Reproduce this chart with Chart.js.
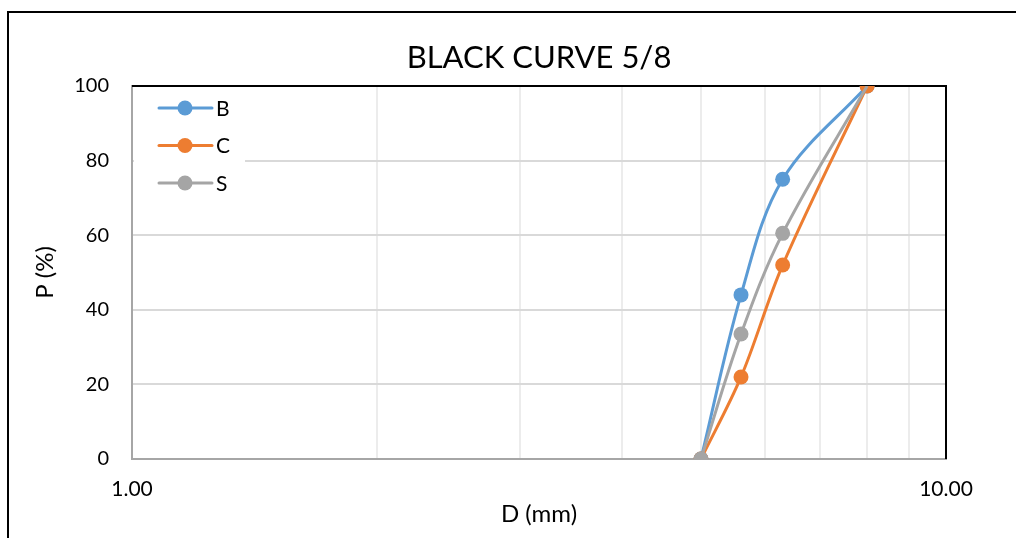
<!DOCTYPE html>
<html>
<head>
<meta charset="utf-8">
<script src="https://cdn.jsdelivr.net/npm/chart.js@4.4.1/dist/chart.umd.min.js"></script>
<style>
  html, body { margin: 0; padding: 0; background: #fff; }
  #wrap { width: 1016px; height: 538px; position: relative; }
</style>
</head>
<body>
<div id="wrap"><canvas id="curveChart" width="1016" height="538"></canvas></div>
<script>
  // sieve sizes (mm) and passing percentages
  var sizes = [5, 5.6, 6.3, 8];
  var passB = [0, 44, 75, 100];
  var passC = [0, 22, 52, 100];
  var passS = [0, 33.5, 60.5, 100];
  var seriesNames = ['B', 'C', 'S'];
  var seriesColors = ['#5B9BD5', '#ED7D31', '#A5A5A5'];
  var xTicks = [1, 2, 3, 4, 5, 6, 7, 8, 9, 10];
  var xLabelTicks = [1, 10];
  var yTicks = [0, 20, 40, 60, 80, 100];
  var chartTitle = 'BLACK CURVE 5/8';

  var FONT = 'Lato, "Open Sans", sans-serif';

  function toPoints(values) {
    return values.map(function (v, i) { return { x: sizes[i], y: v }; });
  }

  // outer frame, title centred over plot area, black top/right edge of plot area
  var framePlugin = {
    id: 'frame',
    beforeDraw: function (chart) {
      var c = chart.ctx, a = chart.chartArea;
      c.save();
      c.fillStyle = '#fff';
      c.fillRect(0, 0, chart.width, chart.height);
      c.strokeStyle = '#000';
      c.lineWidth = 2;
      c.strokeRect(8, 12, chart.width + 50, chart.height + 50);
      c.fillStyle = '#000';
      c.font = '31px ' + FONT;
      c.textAlign = 'center';
      c.textBaseline = 'middle';
      c.fillText(chartTitle, (a.left + a.right) / 2, 58);
      c.restore();
    },
    beforeDatasetsDraw: function (chart) {
      var a = chart.chartArea, c = chart.ctx;
      c.save();
      c.strokeStyle = '#000';
      c.lineWidth = 2;
      c.beginPath();
      c.moveTo(a.left, a.top);
      c.lineTo(a.right, a.top);
      c.lineTo(a.right, a.bottom);
      c.stroke();
      c.restore();
    }
  };

  // legend drawn inside the plot area, top-left
  var insideLegend = {
    id: 'insideLegend',
    afterDatasetsDraw: function (chart) {
      var a = chart.chartArea, c = chart.ctx;
      c.save();
      c.fillStyle = '#fff';
      c.fillRect(a.left + 2, a.top + 2, 111, 112);
      chart.data.datasets.forEach(function (ds, i) {
        var y = a.top + 22 + i * 37.5;
        c.strokeStyle = ds.borderColor;
        c.lineWidth = 3;
        c.lineCap = 'round';
        c.beginPath();
        c.moveTo(a.left + 27, y);
        c.lineTo(a.left + 80, y);
        c.stroke();
        c.fillStyle = ds.backgroundColor;
        c.beginPath();
        c.arc(a.left + 53, y, 7.5, 0, Math.PI * 2);
        c.fill();
        c.fillStyle = '#000';
        c.font = '21px ' + FONT;
        c.textBaseline = 'middle';
        c.textAlign = 'left';
        c.fillText(ds.label, a.left + 84, y + 1);
      });
      c.restore();
    }
  };

  function makeSet(i, values, order, hideLast) {
    return {
      label: seriesNames[i],
      data: toPoints(values),
      borderColor: seriesColors[i],
      backgroundColor: seriesColors[i],
      borderWidth: 3,
      pointRadius: function (c) {
        return (hideLast && c.dataIndex === values.length - 1) ? 0 : 7.5;
      },
      pointHoverRadius: 7.5,
      pointBorderWidth: 0,
      tension: 0.35,
      order: order
    };
  }

  var ctx = document.getElementById('curveChart').getContext('2d');
  var curveChart = new Chart(ctx, {
    type: 'line',
    data: {
      datasets: [
        makeSet(0, passB, 2, false),
        makeSet(1, passC, 1, false),
        makeSet(2, passS, 0, true)
      ]
    },
    options: {
      responsive: false,
      animation: false,
      layout: { padding: { top: 86, left: 0, right: 70, bottom: 0 } },
      plugins: {
        legend: { display: false },
        tooltip: { enabled: false },
        title: { display: false }
      },
      scales: {
        x: {
          type: 'logarithmic',
          min: 1,
          max: 10,
          afterBuildTicks: function (scale) {
            scale.ticks = xTicks.map(function (v) { return { value: v }; });
          },
          afterFit: function (scale) { scale.height = 79; },
          ticks: {
            autoSkip: false,
            maxRotation: 0,
            color: '#000',
            padding: 18,
            font: { family: FONT, size: 21 },
            callback: function (v) {
              return xLabelTicks.indexOf(v) >= 0 ? v.toFixed(2) : '';
            }
          },
          grid: {
            drawTicks: false,
            lineWidth: 2,
            color: function (c) {
              var v = c.tick ? c.tick.value : null;
              return (v === 1 || v === 10) ? 'rgba(0,0,0,0)' : '#ececec';
            }
          },
          border: { color: '#a6a6a6', width: 2 },
          title: {
            display: true,
            text: 'D (mm)',
            color: '#000',
            font: { family: FONT, size: 24 },
            padding: { top: 0, bottom: 9 }
          }
        },
        y: {
          min: 0,
          max: 100,
          afterBuildTicks: function (scale) {
            scale.ticks = yTicks.map(function (v) { return { value: v }; });
          },
          afterFit: function (scale) { scale.width = 132; },
          ticks: {
            color: '#000',
            padding: 23,
            font: { family: FONT, size: 20 }
          },
          grid: { drawTicks: false, color: '#d9d9d9', lineWidth: 2 },
          border: { color: '#a6a6a6', width: 2 },
          title: {
            display: true,
            text: 'P (%)',
            color: '#000',
            font: { family: FONT, size: 24 },
            padding: { top: 31, bottom: 0 }
          }
        }
      }
    },
    plugins: [framePlugin, insideLegend]
  });
</script>
</body>
</html>
